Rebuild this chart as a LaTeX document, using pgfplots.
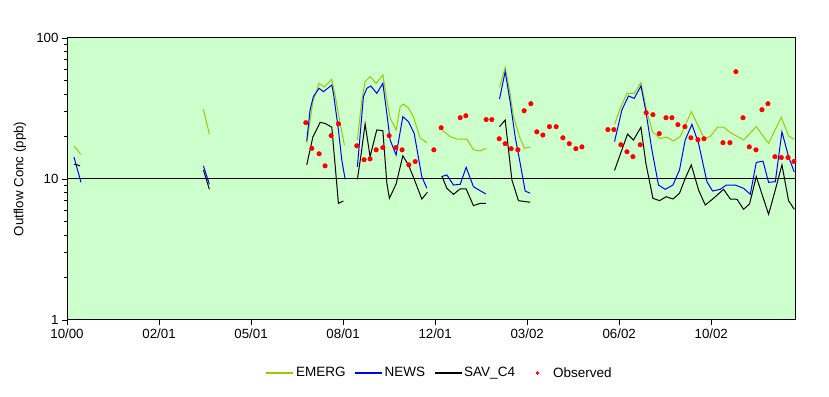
\documentclass[border=0pt]{standalone}
\usepackage{pgfplots}
\pgfplotsset{compat=1.18}
\usepackage{pgfplotstable}
\usepackage{fontspec}
\setmainfont{Liberation Sans}
\definecolor{emerg}{RGB}{153,204,0}
\definecolor{bgg}{RGB}{204,255,204}

\pgfplotstableread{
x y
7.6 17.1
14.9 15.0
nan nan
148.2 31.2
154.7 20.8
nan nan
260.5 17.9
267.1 35.3
273.9 47.7
279.3 44.9
287.7 50.9
291.3 39.4
296.7 24.9
301.4 17.4
nan nan
315.5 18.9
320.3 36.3
323.9 49.0
329.3 53.2
335.9 47.7
343.2 54.7
347.5 36.3
351.1 27.1
357.6 22.3
362.0 32.6
365.5 34.0
371.0 31.9
376.4 27.7
383.7 19.5
391.0 18.1
nan nan
407.3 22.3
416.3 20.0
423.6 19.2
434.5 19.2
441.6 16.1
448.9 15.8
455.1 16.5
nan nan
469.9 44.7
476.1 61.9
480.8 42.8
485.1 27.7
491.6 20.0
497.1 16.5
503.3 16.9
nan nan
594.9 24.4
601.1 31.7
608.4 40.5
616.3 40.5
623.6 48.2
630.1 30.0
636.2 21.6
644.6 19.4
651.8 19.8
659.0 18.6
666.3 20.0
678.3 30.0
684.5 24.8
692.4 19.4
698.9 20.0
706.8 23.3
713.4 23.3
720.7 21.4
735.1 18.9
748.9 23.5
762.3 17.9
776.1 27.4
784.0 20.2
790.2 19.1
}\emerg

\pgfplotstableread{
x y
7.6 14.3
15.2 9.47
nan nan
148.2 12.4
154.7 9.17
nan nan
260.5 18.6
264.1 30.9
267.7 38.4
273.9 44.0
278.6 41.6
287.7 46.4
289.5 40.5
294.9 22.3
298.6 13.6
302.2 9.95
nan nan
315.5 12.2
322.1 38.4
325.8 44.0
330.1 45.7
336.6 40.5
343.2 47.7
347.5 29.2
351.1 18.9
357.6 14.8
364.9 27.7
371.0 25.5
377.2 21.1
385.5 10.4
391.0 8.59
nan nan
407.3 10.4
412.7 10.7
419.9 9.06
427.2 9.17
433.7 12.1
441.6 8.82
448.9 8.26
455.1 7.83
nan nan
469.9 36.9
476.1 57.7
481.5 35.3
486.9 20.0
492.4 12.9
497.8 8.22
503.3 7.92
nan nan
594.9 18.4
602.9 30.9
610.1 38.8
616.3 37.3
623.6 45.7
629.0 30.0
635.5 16.1
642.7 9.06
650.0 8.45
658.4 9.06
665.5 11.6
671.7 18.9
679.0 24.4
686.2 17.9
695.3 9.57
701.4 8.22
709.8 8.45
716.3 9.06
726.1 9.06
735.1 8.59
742.4 7.79
748.9 13.1
756.2 13.4
762.3 9.47
769.6 9.57
776.8 21.6
784.0 14.4
790.2 11.2
}\news

\pgfplotstableread{
x y
7.6 12.7
10.9 12.6
14.1 12.4
nan nan
148.2 11.6
154.7 8.45
nan nan
260.5 12.6
267.1 19.8
275.0 25.2
280.4 24.8
287.7 23.3
292.4 10.4
294.9 6.72
300.3 6.98
nan nan
315.5 9.95
319.2 14.4
323.9 24.6
329.3 14.4
336.6 22.3
343.2 22.0
347.5 9.33
350.3 7.30
357.6 9.22
364.9 14.6
371.0 12.6
378.3 9.57
385.5 7.21
391.6 8.05
nan nan
407.3 10.5
412.7 8.59
419.9 7.79
427.2 8.50
433.7 8.50
441.6 6.47
448.9 6.72
455.1 6.72
nan nan
469.9 23.5
476.1 26.2
483.4 9.84
490.5 7.02
503.3 6.84
nan nan
594.9 11.5
609.0 20.8
615.5 18.9
623.6 23.3
629.0 12.9
636.6 7.30
643.8 7.02
651.1 7.49
658.4 7.21
665.5 7.92
671.7 10.1
678.3 12.6
686.2 8.36
693.5 6.54
702.5 7.30
713.4 8.45
720.7 7.21
728.0 7.18
735.1 6.10
741.6 6.65
748.9 10.4
762.3 5.62
769.6 8.36
776.8 12.6
784.0 7.02
790.2 6.10
}\sav

\pgfplotstableread{
x y
259.5 25.1
266.0 16.5
273.9 15.1
280.4 12.4
287.0 20.3
294.9 24.6
314.9 17.2
322.8 13.7
329.3 13.9
335.9 16.1
343.2 16.7
350.0 20.3
357.3 16.7
364.1 16.1
371.4 12.6
378.3 13.3
398.6 16.1
406.5 23.1
427.2 27.2
433.4 28.1
455.4 26.4
461.6 26.4
469.6 19.3
476.1 17.8
482.6 16.4
489.9 16.1
496.7 30.5
504.0 34.2
510.5 21.6
517.1 20.5
524.2 23.5
531.5 23.5
538.8 19.6
545.7 17.8
552.9 16.4
559.5 16.9
587.7 22.4
594.2 22.4
601.8 17.5
608.4 15.6
614.9 14.4
622.8 17.5
629.3 29.5
636.6 28.6
643.5 21.0
650.8 27.2
657.3 27.2
663.8 24.3
671.4 23.5
677.9 19.6
685.5 19.0
692.1 19.3
712.7 18.1
720.3 18.1
726.8 57.7
734.5 27.2
741.3 16.9
748.6 16.1
755.1 31.0
761.6 34.2
769.2 14.4
776.1 14.2
783.4 14.2
789.9 13.3
}\obs

\begin{document}
\begin{tikzpicture}
\path[use as bounding box] (0,0) rectangle (829pt,396pt);
\begin{axis}[
  at={(67pt,76pt)}, anchor=south west,
  scale only axis, width=728pt, height=282pt,
  ymode=log, ymin=1, ymax=100, xmin=0, xmax=791,
  xtick={0,100,200,300,400,500,600,700},
  xticklabels={10/00,02/01,05/01,08/01,12/01,03/02,06/02,10/02},
  ytick={1,10,100}, yticklabels={1,10,100},
  tick align=outside, tick pos=left,
  major tick length=5pt, minor tick length=3pt,
  every tick/.style={black, line width=0.8pt},
  ymajorgrids, major grid style={black, line width=1pt},
  axis background/.style={fill=bgg},
  axis line style={line width=1pt},
  unbounded coords=jump,
  tick label style={font=\fontsize{13.3}{15}\selectfont},
  ylabel={Outflow Conc (ppb)},
  ylabel style={font=\fontsize{13.3}{15}\selectfont, at={(axis description cs:-0.0646,0.5)}, anchor=center},
  legend columns=4,
  legend style={draw=none, fill=none, font=\fontsize{13.5}{15}\selectfont,
    at={(axis description cs:0.512,-0.188)}, anchor=center,
    /tikz/every even column/.append style={column sep=7pt}},
]
\addplot[emerg, line width=1pt, legend image code/.code={\draw[emerg, line width=1.1pt] (0pt,0pt) -- (27pt,0pt);}] table[x=x,y=y] {\emerg};
\addlegendentry{EMERG}
\addplot[blue, line width=1pt, legend image code/.code={\draw[blue, line width=1.1pt] (0pt,0pt) -- (27pt,0pt);}] table[x=x,y=y] {\news};
\addlegendentry{NEWS}
\addplot[black, line width=1pt, legend image code/.code={\draw[black, line width=1.1pt] (0pt,0pt) -- (27pt,0pt);}] table[x=x,y=y] {\sav};
\addlegendentry{SAV\_C4}
\addplot[only marks, mark=*, mark size=2.3pt, red, mark options={fill=red, draw=red}, legend image code/.code={\path[draw=none,fill=none] (0pt,-1pt) rectangle (27pt,1pt); \fill[red] (13.5pt,0pt) circle (1.5pt);}] table[x=x,y=y] {\obs};
\addlegendentry{Observed}
\end{axis}
\end{tikzpicture}
\end{document}
